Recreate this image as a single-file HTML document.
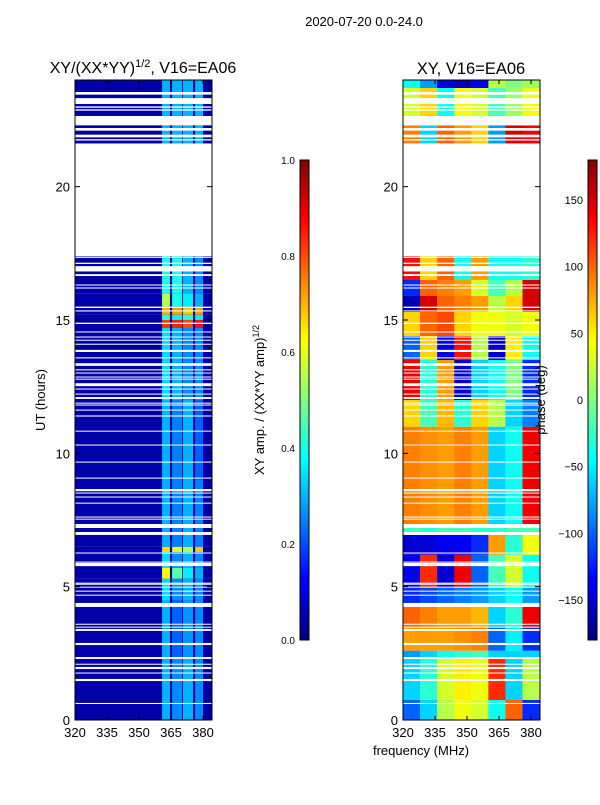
<!DOCTYPE html>
<html><head><meta charset="utf-8"><style>
body{margin:0;background:#fff;}
svg text{font-family:"Liberation Sans",sans-serif;fill:#000;}
</style></head><body>
<svg id="fig" width="600" height="800" xmlns="http://www.w3.org/2000/svg">
<defs>
<linearGradient id="jet" x1="0" y1="1" x2="0" y2="0">
<stop offset="0" stop-color="#000080"/><stop offset="0.125" stop-color="#0000ff"/><stop offset="0.375" stop-color="#00ffff"/><stop offset="0.625" stop-color="#ffff00"/><stop offset="0.875" stop-color="#ff0000"/><stop offset="1" stop-color="#800000"/>
</linearGradient>
</defs>
<text x="364" y="26" font-size="13" text-anchor="middle">2020-07-20 0.0-24.0</text>
<text x="143" y="73" font-size="16" text-anchor="middle">XY/(XX*YY)<tspan font-size="11" dy="-6">1/2</tspan><tspan dy="6">, V16=EA06</tspan></text>
<text x="471" y="74" font-size="16.5" text-anchor="middle">XY, V16=EA06</text>
<g id="left"></g>
<g id="right"></g>
<g id="axes"></g>
<text transform="translate(45,400) rotate(-90)" font-size="13" text-anchor="middle">UT (hours)</text>
<text x="421" y="755" font-size="13" text-anchor="middle">frequency (MHz)</text>
<rect x="300" y="160" width="9" height="480" fill="url(#jet)" stroke="#000" stroke-width="1"/>
<rect x="588" y="160" width="9" height="480" fill="url(#jet)" stroke="#000" stroke-width="1"/>
<text transform="translate(264,400) rotate(-90)" font-size="13" text-anchor="middle">XY amp. / (XX*YY amp)<tspan font-size="9" dy="-5">1/2</tspan></text>
<text transform="translate(545,400) rotate(-90)" font-size="13" text-anchor="middle">phase (deg)</text>
</svg>
<script>
const hours0=0,hours1=24,f0=320,f1=384.2;
const gaps=[[23.45,23.55],[23.1,23.32],[22.96,23.01],[22.85,22.9],[22.3,22.65],[22.1,22.2],[21.85,21.95],[21.73,21.78],[17.42,21.62],[17.33,17.38],[17.1,17.15],[16.82,17.02],[16.65,16.72],[16.3,16.33],[16.18,16.22],[15.45,15.5],[15.32,15.36],[14.85,14.9],[14.54,14.57],[14.35,14.38],[14.23,14.26],[14.08,14.11],[13.8,13.88],[13.56,13.6],[13.28,13.38],[13.11,13.15],[13.0,13.03],[12.85,12.88],[12.77,12.8],[12.52,12.63],[12.4,12.43],[12.21,12.24],[12.04,12.11],[11.87,11.9],[11.8,11.83],[11.61,11.64],[11.38,11.42],[10.82,10.85],[10.3,10.33],[9.66,9.69],[9.06,9.09],[8.58,8.66],[8.5,8.53],[8.35,8.38],[8.12,8.15],[7.6,7.63],[7.52,7.55],[7.2,7.35],[6.94,7.05],[6.25,6.28],[5.91,5.94],[5.77,5.89],[5.12,5.15],[5.08,5.11],[4.97,5.0],[4.82,4.85],[4.67,4.7],[4.24,4.39],[3.58,3.61],[3.47,3.5],[3.34,3.41],[2.81,2.89],[2.29,2.36],[2.08,2.11],[1.91,1.99],[1.75,1.78],[1.46,1.54],[0.6,0.64]];
const ampStart=[0,2.3,4.5,5.3,5.7,6.3,6.5,9,12,14.7,15.0,15.2,15.5,16,21.6];
const ampEnd=[2.3,4.5,5.3,5.7,6.3,6.5,9,12,14.7,15.0,15.2,15.5,16,17.4,24];
const ampBand=[[0.3,0.26,0.3,0.26],[0.3,0.22,0.27,0.26],[0.34,0.26,0.3,0.26],[0.62,0.46,0.36,0.3],[0.34,0.26,0.3,0.26],[0.66,0.6,0.55,0.68],[0.3,0.25,0.3,0.25],[0.3,0.25,0.3,0.22],[0.34,0.3,0.26,0.26],[0.82,0.84,0.8,0.86],[0.42,0.36,0.4,0.36],[0.7,0.72,0.68,0.72],[0.55,0.4,0.36,0.3],[0.4,0.4,0.3,0.26],[0.3,0.3,0.3,0.3]];
const ampBase=0.04;
const subBandLo=[360.8,365.5,370.6,376.3];
const subBandHi=[364.5,370.2,375.3,380.0];
const phStart=[0,0.75,2.3,2.6,3.5,4.3,5.0,6.2,7.0,7.3,11,12,13.5,14.4,15.3,15.9,16.5,21.6,22.3,23.7];
const phEnd=[0.75,2.3,2.6,3.5,4.3,5.0,6.2,7.0,7.3,11,12,13.5,14.4,15.3,15.9,16.5,17.4,22.3,23.7,24];
const phVals=[
[-100,-60,20,40,30,-40,100,-120],
[-60,-30,30,50,40,120,-60,20],
[-80,-60,-40,-30,-20,-60,-60,-60],
[80,80,80,85,90,-100,-50,-120],
[100,90,80,80,70,-60,-30,140],
[-120,-110,-100,-90,-80,-60,-40,-80],
[-140,120,-150,140,-100,-20,30,-40],
[-150,-150,-140,-140,-120,80,-30,40],
[-20,-30,-20,-20,-30,-30,-20,-20],
[90,85,80,90,80,-60,-40,140],
[60,-20,70,-30,60,20,-60,-90],
[140,-30,80,-150,-60,-40,0,-120],
[-100,60,-140,130,20,-150,50,-40],
[60,100,110,60,40,40,30,40],
[-160,150,100,90,80,20,60,150],
[-120,100,90,80,30,-20,20,150],
[130,60,100,-40,80,-40,-40,-30],
[90,-60,100,80,60,-80,150,140],
[30,60,-40,40,30,-20,10,40],
[-40,-80,-150,-160,-140,20,0,10]];
const ampTicks=[0,0.2,0.4,0.6,0.8,1.0];
const phTicks=[-150,-100,-50,0,50,100,150];
const yTicks=[0,5,10,15,20];
const xTicks=[320,335,350,365,380];

const NS="http://www.w3.org/2000/svg";
const PT=80,PB=720;
const yS=h=>PB-(h-hours0)/(hours1-hours0)*(PB-PT);
function xS(panelX){return f=>panelX+(f-f0)/(f1-f0)*137;}
function jet(t){t=Math.max(0,Math.min(1,t));
 const c=(x)=>Math.max(0,Math.min(1,x));
 const r=c(1.5-Math.abs(4*t-3)),g=c(1.5-Math.abs(4*t-2)),b=c(1.5-Math.abs(4*t-1));
 return `rgb(${Math.round(r*255)},${Math.round(g*255)},${Math.round(b*255)})`;}
function mk(tag,attrs,parent){const e=document.createElementNS(NS,tag);for(const k in attrs)e.setAttribute(k,attrs[k]);parent.appendChild(e);return e;}

const L=document.getElementById('left'),R=document.getElementById('right'),A=document.getElementById('axes');
const xl=xS(75),xr=xS(403);
for(let i=0;i<ampStart.length;i++){
 const y1=yS(ampEnd[i]),y0=yS(ampStart[i]);
 const bg=mk('rect',{x:75,y:y1,width:137,height:y0-y1,fill:jet(ampBase)},L);
 
 
 for(let b=0;b<4;b++){
  const xa=xl(subBandLo[b]),xb=xl(subBandHi[b]);
  const r=mk('rect',{x:xa,y:y1,width:xb-xa,height:y0-y1,fill:jet(ampBand[i][b])},L);
  
  
 }
}
for(let i=0;i<phStart.length;i++){
 const y1=yS(phEnd[i]),y0=yS(phStart[i]);
 for(let g=0;g<8;g++){
  const xa=xr(f0+g*8),xb=g==7?540:xr(f0+(g+1)*8);
  const r=mk('rect',{x:xa,y:y1,width:xb-xa+0.3,height:y0-y1,fill:jet((phVals[i][g]+180)/360)},R);
  
  
 }
}
for(const [P,X] of [[L,75],[R,403]]){
 for(const g of gaps){
  const y1=yS(g[1]),y0=yS(g[0]);
  const r=mk('rect',{x:X,y:y1,width:137,height:Math.max(1,y0-y1),fill:'#fff'},P);
  
  
 }
}
for(const X of [75,403]){
 const f=mk('rect',{x:X,y:80,width:137,height:640,fill:'none',stroke:'#000','stroke-width':1},A);
 
 
 const xs=xS(X);
 for(const v of xTicks){
  const x=xs(v);
  mk('line',{x1:x,y1:720,x2:x,y2:716,stroke:'#000'},A);
  mk('line',{x1:x,y1:80,x2:x,y2:84,stroke:'#000'},A);
  const t=mk('text',{x:x,y:737,'font-size':13,'text-anchor':'middle'},A);
  t.textContent=v;
  
  
 }
 for(const v of yTicks){
  const y=yS(v);
  mk('line',{x1:X,y1:y,x2:X+5,y2:y,stroke:'#000'},A);
  mk('line',{x1:X+137,y1:y,x2:X+132,y2:y,stroke:'#000'},A);
  const t=mk('text',{x:X-5,y:y+5,'font-size':13,'text-anchor':'end'},A);
  t.textContent=v;
  
  
 }
}
for(const v of ampTicks){
 const y=640-v*480;
 mk('line',{x1:300,y1:y,x2:303,y2:y,stroke:'#000'},A);
 mk('line',{x1:309,y1:y,x2:306,y2:y,stroke:'#000'},A);
 const t=mk('text',{x:295,y:y+4,'font-size':10,'text-anchor':'end'},A);
 t.textContent=v.toFixed(1);
 
 
}
for(const v of phTicks){
 const y=400-v*480/360;
 mk('line',{x1:588,y1:y,x2:591,y2:y,stroke:'#000'},A);
 mk('line',{x1:597,y1:y,x2:594,y2:y,stroke:'#000'},A);
 const t=mk('text',{x:583,y:y+4,'font-size':11,'text-anchor':'end'},A);
 t.textContent=v<0?'\u2212'+(-v):v;
 
 
}
</script>
</body></html>
